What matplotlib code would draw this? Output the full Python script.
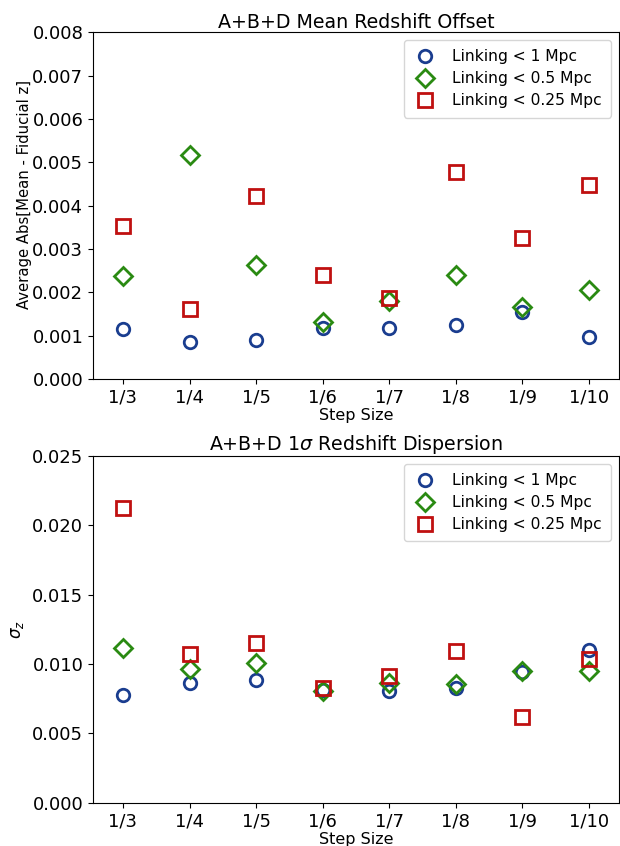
import matplotlib
matplotlib.use('Agg')
import matplotlib.pyplot as plt

steps = ['1/3', '1/4', '1/5', '1/6', '1/7', '1/8', '1/9', '1/10']
labels = ['Linking < 1 Mpc', 'Linking < 0.5 Mpc', 'Linking < 0.25 Mpc']

# mean redshift offset
offset_1 = [0.00115, 0.00085, 0.00091, 0.00118, 0.00118, 0.00125, 0.00155, 0.00098]
offset_05 = [0.00237, 0.00517, 0.00262, 0.00132, 0.00179, 0.00239, 0.00166, 0.00205]
offset_025 = [0.00352, 0.00161, 0.00423, 0.00241, 0.00187, 0.00477, 0.00326, 0.00447]

# 1 sigma dispersion
sigma_1 = [0.00780, 0.00866, 0.00885, 0.00816, 0.00804, 0.00828, 0.00943, 0.01104]
sigma_05 = [0.01118, 0.00967, 0.01005, 0.00809, 0.00864, 0.00859, 0.00950, 0.00948]
sigma_025 = [0.02128, 0.01075, 0.01154, 0.00828, 0.00912, 0.01092, 0.00617, 0.01039]

colors = ['#1a3d8f', '#2a8a12', '#c01010']
markers = ['o', 'D', 's']
sizes = [9, 9.5, 10]

fig = plt.figure(figsize=(6.2, 8.46), dpi=100)
ax1 = fig.add_axes([0.150, 0.552, 0.848, 0.410])
ax2 = fig.add_axes([0.150, 0.051, 0.848, 0.410])

x = range(len(steps))


def draw(ax, series, title, ylabel, ylim, lab_size):
    for vals, c, m, s, lab in zip(series, colors, markers, sizes, labels):
        ax.plot(x, vals, linestyle='none', marker=m, markersize=s,
                markerfacecolor='none', markeredgecolor=c, markeredgewidth=2,
                label=lab)
    ax.set_xlim(-0.45, 7.45)
    ax.set_ylim(*ylim)
    ax.set_xticks(list(x))
    ax.set_xticklabels(steps)
    ax.tick_params(labelsize=13)
    ax.set_title(title, fontsize=13.7, pad=3)
    ax.set_xlabel('Step Size', fontsize=11.5, labelpad=1)
    ax.set_ylabel(ylabel, fontsize=lab_size)
    ax.legend(loc='upper right', fontsize=11.2, handlelength=1.5,
              handletextpad=1.0, borderpad=0.6, labelspacing=0.45)


draw(ax1, [offset_1, offset_05, offset_025], 'A+B+D Mean Redshift Offset',
     'Average Abs[Mean - Fiducial z]', (0, 0.008), 10.7)
ax1.yaxis.set_label_coords(-0.116, 0.533)
draw(ax2, [sigma_1, sigma_05, sigma_025], r'A+B+D 1$\sigma$ Redshift Dispersion',
     r'$\sigma_z$', (0, 0.025), 12)

fig.savefig('out.png', dpi=100)
